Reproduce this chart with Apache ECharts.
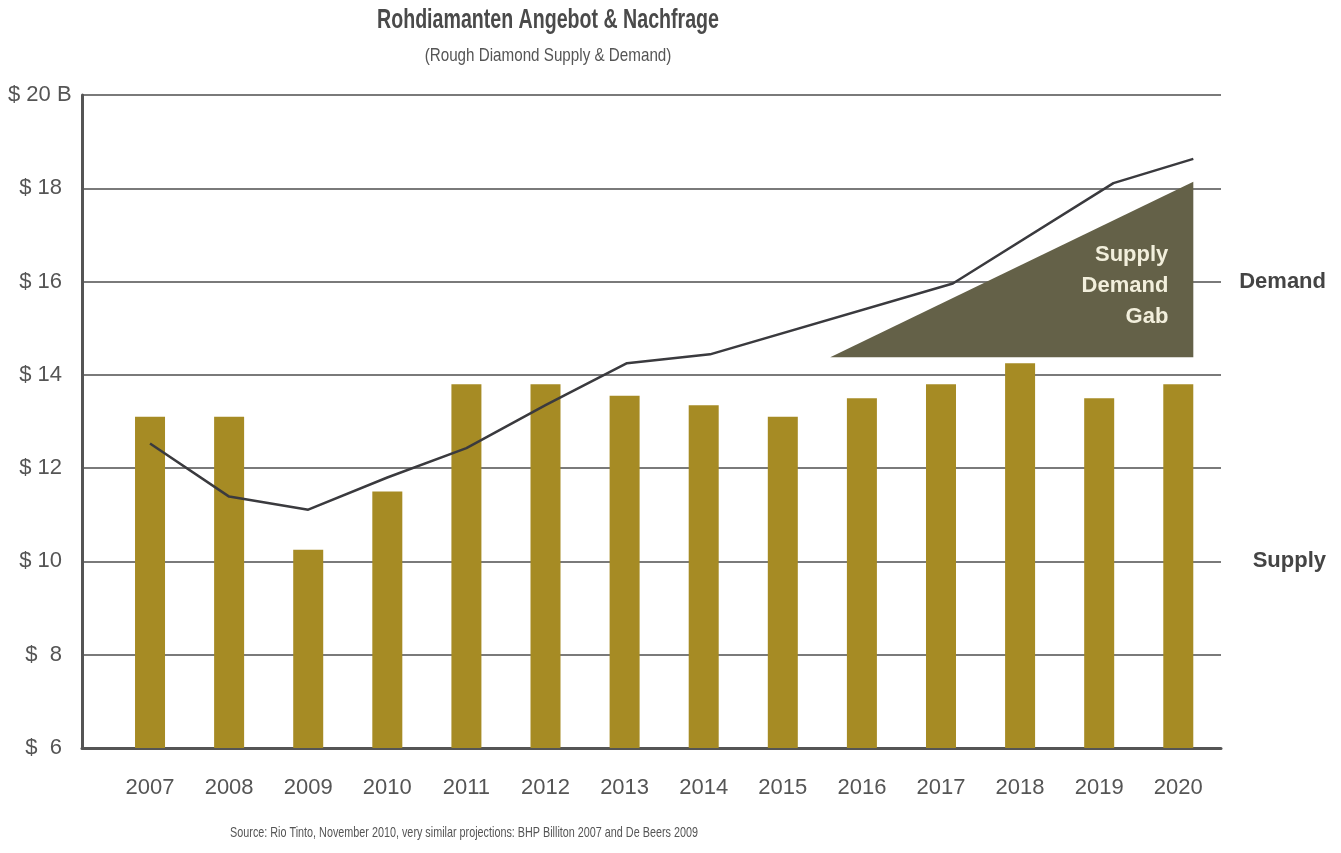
<!DOCTYPE html>
<html>
<head>
<meta charset="utf-8">
<script src="https://cdn.jsdelivr.net/npm/echarts@6/dist/echarts.min.js"></script>
<style>
html,body{margin:0;padding:0;background:#fff;}
#chart{width:1341px;height:853px;}
</style>
</head>
<body>
<div id="chart"></div>
<script>
// ---- data ----
var years = [2007, 2008, 2009, 2010, 2011, 2012, 2013, 2014, 2015, 2016, 2017, 2018, 2019, 2020];
var supply = [13.1, 13.1, 10.25, 11.5, 13.8, 13.8, 13.55, 13.35, 13.1, 13.5, 13.8, 14.25, 13.5, 13.8];
var demandX = [2007, 2008, 2009, 2010, 2011, 2012, 2013.03, 2014.08, 2017.15, 2019.18, 2020.19];
var demandY = [12.53, 11.39, 11.11, 11.8, 12.43, 13.35, 14.25, 14.44, 15.96, 18.11, 18.63];
var gapX = [2015.6, 2020.19, 2020.19];
var gapY = [14.38, 14.38, 18.14];
var gapLabelPos = [2020.19, 15.9];
var gapText = 'Supply\nDemand\nGab';
var rightLabels = { 16: 'Demand', 10: 'Supply' };
var titleText = 'Rohdiamanten Angebot & Nachfrage';
var subText = '(Rough Diamond Supply & Demand)';
var sourceText = 'Source: Rio Tinto, November 2010, very similar projections: BHP Billiton 2007 and De Beers 2009';

var sans = "'Liberation Sans', Arial, sans-serif";

var chart = echarts.init(document.getElementById('chart'));
var option = {
  animation: false,
  backgroundColor: '#ffffff',
  graphic: [
    { type: 'text', x: 548, y: 6, scaleX: 0.70, silent: true,
      style: { text: titleText, align: 'center', verticalAlign: 'top',
        font: "bold 28px 'Liberation Sans', Arial, sans-serif", fill: '#4a4a4a' } },
    { type: 'text', x: 548, y: 46, scaleX: 0.8, silent: true,
      style: { text: subText, align: 'center', verticalAlign: 'top',
        font: "19px 'Liberation Sans', Arial, sans-serif", fill: '#555' } },
    { type: 'text', x: 464, y: 825, scaleX: 0.72, silent: true,
      style: { text: sourceText, align: 'center', verticalAlign: 'top',
        font: "15px 'Liberation Sans', Arial, sans-serif", fill: '#555' } }
  ],
  grid: { left: 82, right: 120, top: 95, bottom: 105, containLabel: false },
  xAxis: {
    type: 'value', min: 2006.14, max: 2020.54,
    axisLine: { show: true, onZero: false, lineStyle: { color: '#555', width: 3 } },
    axisTick: { show: false },
    splitLine: { show: false },
    axisLabel: { customValues: years, margin: 29, fontFamily: sans, fontSize: 22, color: '#555',
      formatter: function (v) { return String(Math.round(v)); } }
  },
  yAxis: [
    {
      type: 'value', min: 6, max: 20, interval: 2,
      axisLine: { show: true, lineStyle: { color: '#555', width: 3 } },
      axisTick: { show: false },
      splitLine: { show: true, lineStyle: { color: '#7a7a7a', width: 2 } },
      axisLabel: { margin: 20, fontFamily: sans, fontSize: 22, color: '#555',
        formatter: function (v) {
          if (v === 20) return '{b|$ 20 B}';
          return v < 10 ? '$  ' + v : '$ ' + v;
        },
        rich: { b: { width: 54, align: 'left', fontFamily: sans, fontSize: 22, color: '#555' } }
      }
    },
    {
      type: 'value', min: 6, max: 20, position: 'right',
      axisLine: { show: false }, axisTick: { show: false }, splitLine: { show: false },
      axisLabel: { customValues: [16, 10], margin: 105, align: 'right',
        fontFamily: sans, fontSize: 22, fontWeight: 'bold', color: '#444',
        formatter: function (v) { return rightLabels[v] || ''; } }
    }
  ],
  series: [
    {
      type: 'bar', barWidth: 30,
      itemStyle: { color: '#a68b24' },
      data: years.map(function (y, i) { return [y, supply[i]]; }),
      z: 2
    },
    {
      type: 'custom',
      data: [0],
      renderItem: function (params, api) {
        var pts = gapX.map(function (x, i) { return api.coord([x, gapY[i]]); });
        var lp = api.coord(gapLabelPos);
        return {
          type: 'group',
          children: [
            { type: 'polygon', shape: { points: pts }, style: { fill: '#646148' } },
            { type: 'text', x: lp[0] - 25, y: lp[1],
              style: { text: gapText, align: 'right', verticalAlign: 'middle', lineHeight: 31,
                font: "bold 22px 'Liberation Sans', Arial, sans-serif", fill: '#f2efdc' } }
          ]
        };
      },
      z: 3
    },
    {
      type: 'line',
      data: demandX.map(function (x, i) { return [x, demandY[i]]; }),
      symbol: 'none',
      lineStyle: { color: '#3a3a3e', width: 2.5 },
      z: 4
    }
  ]
};
chart.setOption(option);
</script>
</body>
</html>
